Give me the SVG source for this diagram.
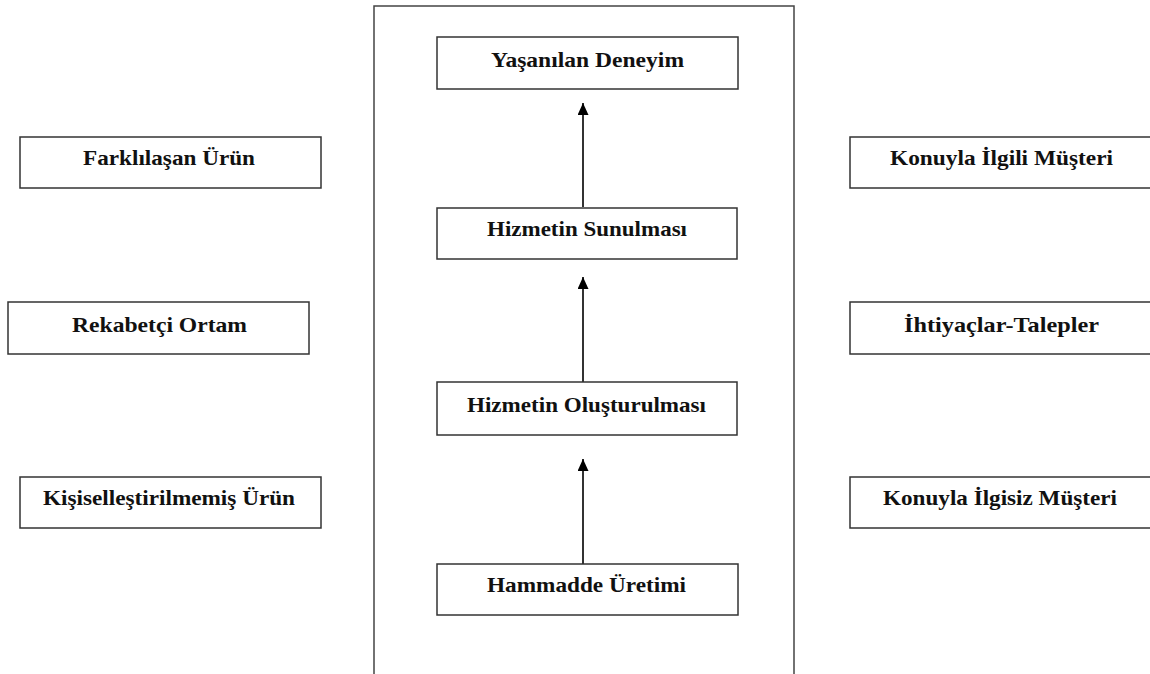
<svg xmlns="http://www.w3.org/2000/svg" width="1150" height="674" viewBox="0 0 1150 674">
  <style>
    .box { fill: #ffffff; stroke: #333333; stroke-width: 1.5; }
    .frame { fill: none; stroke: #444444; stroke-width: 1.5; }
    .lbl { font-family: "Liberation Serif", "Times New Roman", serif; font-weight: bold; font-size: 22px; fill: #111111; text-anchor: middle; }
    .edge { stroke: #333333; stroke-width: 2; fill: none; marker-end: url(#arrow); }
  </style>
  <defs>
    <!-- filled triangular arrowhead, tip at the end of the line -->
    <marker id="arrow" markerUnits="userSpaceOnUse" markerWidth="12" markerHeight="11" refX="12" refY="5.5" orient="auto" viewBox="0 0 12 11">
      <path d="M0,0 L12,5.5 L0,11 Z" fill="#000000"/>
    </marker>
  </defs>
  <rect width="1150" height="674" fill="#ffffff"/>

  <!-- central frame, open at the bottom -->
  <path class="frame" d="M374,674 L374,6 L794,6 L794,674"/>

  <g id="connectors">
    <line class="edge" x1="583" y1="207" x2="583" y2="103"/>
    <line class="edge" x1="583" y1="382" x2="583" y2="277"/>
    <line class="edge" x1="583" y1="564" x2="583" y2="459"/>
  </g>

  <g id="yasanilan-deneyim">
    <rect class="box" x="437" y="37" width="301" height="52"/>
    <text class="lbl" x="587.5" y="67" textLength="193" lengthAdjust="spacingAndGlyphs">Yaşanılan Deneyim</text>
  </g>
  <g id="hizmetin-sunulmasi">
    <rect class="box" x="437" y="208" width="300" height="51"/>
    <text class="lbl" x="587" y="236" textLength="200" lengthAdjust="spacingAndGlyphs">Hizmetin Sunulması</text>
  </g>
  <g id="hizmetin-olusturulmasi">
    <rect class="box" x="437" y="382" width="300" height="53"/>
    <text class="lbl" x="586.5" y="412" textLength="239" lengthAdjust="spacingAndGlyphs">Hizmetin Oluşturulması</text>
  </g>
  <g id="hammadde-uretimi">
    <rect class="box" x="437" y="564" width="301" height="51"/>
    <text class="lbl" x="586.5" y="592" textLength="199" lengthAdjust="spacingAndGlyphs">Hammadde Üretimi</text>
  </g>

  <g id="farklilasan-urun">
    <rect class="box" x="20" y="137" width="301" height="51"/>
    <text class="lbl" x="169" y="165" textLength="172" lengthAdjust="spacingAndGlyphs">Farklılaşan Ürün</text>
  </g>
  <g id="rekabetci-ortam">
    <rect class="box" x="8" y="302" width="301" height="52"/>
    <text class="lbl" x="159.5" y="332" textLength="175" lengthAdjust="spacingAndGlyphs">Rekabetçi Ortam</text>
  </g>
  <g id="kisisellestirilmemis-urun">
    <rect class="box" x="20" y="477" width="301" height="51"/>
    <text class="lbl" x="169" y="505" textLength="252" lengthAdjust="spacingAndGlyphs">Kişiselleştirilmemiş Ürün</text>
  </g>

  <g id="konuyla-ilgili-musteri">
    <rect class="box" x="850" y="137" width="320" height="51"/>
    <text class="lbl" x="1001.5" y="165" textLength="223" lengthAdjust="spacingAndGlyphs">Konuyla İlgili Müşteri</text>
  </g>
  <g id="ihtiyaclar-talepler">
    <rect class="box" x="850" y="302" width="320" height="52"/>
    <text class="lbl" x="1001.5" y="332" textLength="195" lengthAdjust="spacingAndGlyphs">İhtiyaçlar-Talepler</text>
  </g>
  <g id="konuyla-ilgisiz-musteri">
    <rect class="box" x="850" y="477" width="320" height="51"/>
    <text class="lbl" x="1000" y="505" textLength="234" lengthAdjust="spacingAndGlyphs">Konuyla İlgisiz Müşteri</text>
  </g>
</svg>
